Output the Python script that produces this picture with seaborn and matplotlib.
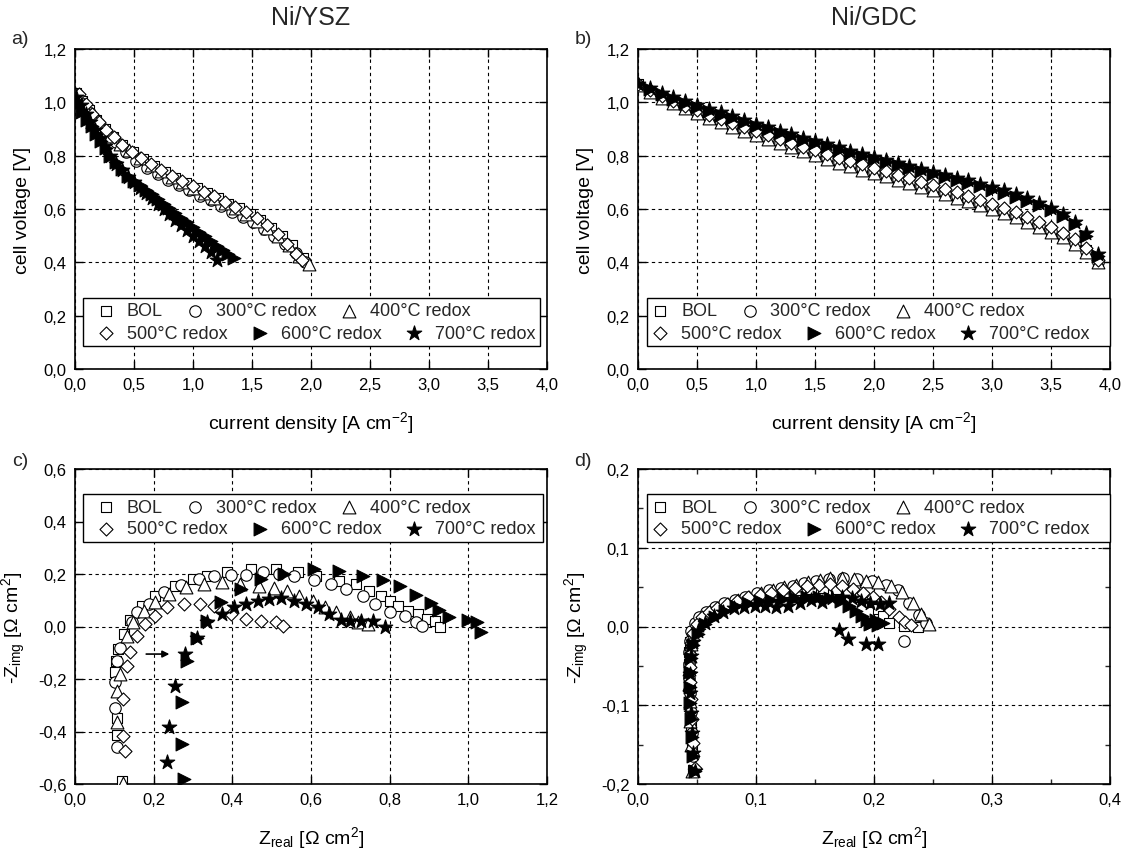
import matplotlib
matplotlib.use("Agg")
import matplotlib.pyplot as plt
import seaborn as sns
from matplotlib.ticker import MultipleLocator, FuncFormatter
from matplotlib.patches import Rectangle

sns.set_theme(style="white")
plt.rcParams["font.family"] = ["Liberation Sans", "DejaVu Sans"]
plt.rcParams["mathtext.fontset"] = "custom"
plt.rcParams["mathtext.rm"] = "Liberation Sans"
plt.rcParams["mathtext.it"] = "Liberation Sans:italic"
plt.rcParams["mathtext.bf"] = "Liberation Sans:bold"

# ---------------- series definitions ----------------
labels = ["BOL", "300°C redox", "400°C redox", "500°C redox", "600°C redox", "700°C redox"]
markers = ["s", "o", "^", "D", ">", "*"]
sizes = [55, 68, 85, 44, 85, 120]
faces = ["white", "white", "white", "white", "black", "black"]

# ---------------- a) Ni/YSZ  i-V ----------------
ja_bol = [0.01, 0.06, 0.12, 0.18, 0.25, 0.32, 0.40, 0.49, 0.58, 0.67, 0.76, 0.85, 0.94, 1.03, 1.12, 1.21, 1.30, 1.39, 1.48, 1.57, 1.66, 1.75, 1.84, 1.93]
va_bol = [1.035, 1.005, 0.97, 0.935, 0.90, 0.87, 0.84, 0.812, 0.786, 0.762, 0.74, 0.717, 0.697, 0.678, 0.661, 0.643, 0.62, 0.602, 0.58, 0.557, 0.53, 0.50, 0.465, 0.415]
ja_300 = [0.02, 0.07, 0.13, 0.20, 0.27, 0.35, 0.43, 0.52, 0.61, 0.70, 0.79, 0.88, 0.97, 1.06, 1.15, 1.24, 1.33, 1.42, 1.51, 1.60, 1.69, 1.78, 1.87, 1.95]
va_300 = [1.03, 0.995, 0.96, 0.92, 0.885, 0.85, 0.815, 0.78, 0.755, 0.73, 0.71, 0.69, 0.67, 0.65, 0.632, 0.612, 0.59, 0.57, 0.55, 0.525, 0.50, 0.47, 0.435, 0.40]
ja_400 = [0.01, 0.08, 0.15, 0.22, 0.30, 0.38, 0.46, 0.55, 0.64, 0.73, 0.82, 0.91, 1.00, 1.09, 1.18, 1.27, 1.36, 1.45, 1.54, 1.63, 1.72, 1.81, 1.90, 1.98]
va_400 = [1.03, 0.99, 0.945, 0.91, 0.875, 0.845, 0.82, 0.79, 0.765, 0.742, 0.72, 0.70, 0.68, 0.66, 0.642, 0.622, 0.602, 0.58, 0.556, 0.53, 0.50, 0.465, 0.425, 0.395]
ja_500 = [0.03, 0.09, 0.14, 0.20, 0.26, 0.33, 0.40, 0.48, 0.56, 0.64, 0.73, 0.82, 0.91, 1.00, 1.09, 1.18, 1.27, 1.36, 1.45, 1.54, 1.63, 1.72, 1.80, 1.87, 1.92]
va_500 = [1.03, 0.995, 0.955, 0.925, 0.895, 0.87, 0.84, 0.815, 0.79, 0.77, 0.748, 0.725, 0.705, 0.685, 0.665, 0.648, 0.628, 0.608, 0.588, 0.565, 0.54, 0.505, 0.47, 0.43, 0.41]
ja_600 = [0.02, 0.06, 0.10, 0.14, 0.18, 0.22, 0.26, 0.30, 0.35, 0.40, 0.45, 0.50, 0.55, 0.60, 0.65, 0.70, 0.75, 0.80, 0.85, 0.90, 0.95, 1.00, 1.05, 1.10, 1.15, 1.20, 1.25, 1.30, 1.35]
va_600 = [0.995, 0.965, 0.935, 0.91, 0.88, 0.855, 0.83, 0.80, 0.775, 0.75, 0.725, 0.705, 0.69, 0.672, 0.655, 0.638, 0.62, 0.603, 0.586, 0.568, 0.55, 0.533, 0.515, 0.498, 0.48, 0.463, 0.445, 0.43, 0.415]
ja_700 = [0.01, 0.05, 0.09, 0.13, 0.17, 0.21, 0.25, 0.30, 0.35, 0.40, 0.45, 0.50, 0.55, 0.60, 0.65, 0.70, 0.75, 0.80, 0.85, 0.90, 0.95, 1.00, 1.05, 1.10, 1.15, 1.20]
va_700 = [1.02, 0.99, 0.955, 0.925, 0.895, 0.865, 0.835, 0.80, 0.77, 0.745, 0.72, 0.70, 0.68, 0.66, 0.64, 0.62, 0.60, 0.58, 0.56, 0.54, 0.52, 0.50, 0.48, 0.46, 0.44, 0.41]

# ---------------- b) Ni/GDC  i-V ----------------
jb = [0.00, 0.10, 0.20, 0.30, 0.40, 0.50, 0.60, 0.70, 0.80, 0.90, 1.00, 1.10, 1.20, 1.30, 1.40, 1.50, 1.60, 1.70, 1.80, 1.90,
      2.00, 2.10, 2.20, 2.30, 2.40, 2.50, 2.60, 2.70, 2.80, 2.90, 3.00, 3.10, 3.20, 3.30, 3.40, 3.50, 3.60, 3.70, 3.80, 3.90]
vb_bol = [1.068, 1.043, 1.020, 1.000, 0.981, 0.963, 0.946, 0.929, 0.913, 0.897, 0.881, 0.866, 0.851, 0.836, 0.822, 0.808, 0.794, 0.780, 0.767, 0.754,
          0.741, 0.728, 0.715, 0.702, 0.689, 0.676, 0.663, 0.649, 0.635, 0.621, 0.606, 0.591, 0.575, 0.558, 0.540, 0.521, 0.500, 0.476, 0.446, 0.405]
vb_300 = [1.066, 1.042, 1.019, 0.998, 0.979, 0.961, 0.944, 0.927, 0.911, 0.895, 0.879, 0.864, 0.849, 0.834, 0.820, 0.806, 0.792, 0.778, 0.765, 0.752,
          0.739, 0.726, 0.713, 0.700, 0.687, 0.674, 0.661, 0.647, 0.633, 0.619, 0.604, 0.589, 0.573, 0.556, 0.538, 0.519, 0.498, 0.474, 0.444, 0.403]
vb_400 = [1.065, 1.040, 1.017, 0.996, 0.977, 0.959, 0.942, 0.925, 0.908, 0.892, 0.876, 0.861, 0.846, 0.831, 0.816, 0.802, 0.788, 0.774, 0.761, 0.748,
          0.735, 0.722, 0.709, 0.696, 0.683, 0.670, 0.657, 0.643, 0.629, 0.615, 0.600, 0.585, 0.569, 0.552, 0.534, 0.515, 0.494, 0.470, 0.440, 0.400]
vb_500 = [1.068, 1.046, 1.025, 1.005, 0.987, 0.970, 0.954, 0.938, 0.922, 0.907, 0.892, 0.877, 0.862, 0.848, 0.834, 0.820, 0.806, 0.793, 0.780, 0.767,
          0.754, 0.741, 0.728, 0.715, 0.702, 0.689, 0.676, 0.662, 0.648, 0.634, 0.619, 0.604, 0.588, 0.571, 0.553, 0.533, 0.511, 0.486, 0.454, 0.410]
vb_600 = [1.068, 1.049, 1.031, 1.014, 0.998, 0.983, 0.968, 0.954, 0.940, 0.926, 0.912, 0.899, 0.886, 0.873, 0.860, 0.847, 0.835, 0.823, 0.811, 0.799,
          0.787, 0.776, 0.765, 0.754, 0.743, 0.732, 0.721, 0.710, 0.698, 0.686, 0.673, 0.660, 0.646, 0.631, 0.614, 0.595, 0.572, 0.543, 0.500, 0.425]
vb_700 = [1.070, 1.052, 1.035, 1.019, 1.004, 0.990, 0.976, 0.962, 0.948, 0.934, 0.920, 0.907, 0.894, 0.881, 0.868, 0.855, 0.843, 0.831, 0.819, 0.807,
          0.795, 0.784, 0.773, 0.762, 0.751, 0.740, 0.729, 0.718, 0.707, 0.695, 0.683, 0.670, 0.656, 0.641, 0.624, 0.605, 0.582, 0.553, 0.510, 0.430]

# ---------------- c) Ni/YSZ  impedance ----------------
zc_re_bol = [0.119, 0.106, 0.106, 0.102, 0.104, 0.110, 0.125, 0.140, 0.170, 0.204, 0.255, 0.300, 0.336, 0.387, 0.447, 0.510, 0.566, 0.613, 0.670, 0.715, 0.748, 0.779, 0.800, 0.821, 0.847, 0.872, 0.894, 0.914, 0.927]
zc_im_bol = [-0.590, -0.415, -0.350, -0.175, -0.130, -0.085, -0.030, 0.025, 0.080, 0.117, 0.155, 0.180, 0.194, 0.206, 0.219, 0.219, 0.206, 0.194, 0.175, 0.162, 0.137, 0.117, 0.098, 0.079, 0.060, 0.048, 0.029, 0.022, -0.002]
zc_re_300 = [0.106, 0.102, 0.102, 0.106, 0.115, 0.145, 0.157, 0.187, 0.225, 0.270, 0.314, 0.353, 0.396, 0.434, 0.477, 0.518, 0.557, 0.608, 0.651, 0.690, 0.732, 0.762, 0.800, 0.838, 0.868, 0.881]
zc_im_300 = [-0.460, -0.310, -0.210, -0.130, -0.080, 0.016, 0.054, 0.086, 0.130, 0.160, 0.181, 0.194, 0.196, 0.196, 0.206, 0.200, 0.194, 0.178, 0.162, 0.143, 0.117, 0.086, 0.056, 0.041, 0.016, 0.003]
zc_re_400 = [0.123, 0.106, 0.106, 0.115, 0.132, 0.148, 0.175, 0.204, 0.238, 0.281, 0.327, 0.374, 0.420, 0.468, 0.506, 0.540, 0.570, 0.604, 0.636, 0.664, 0.698, 0.720, 0.745]
zc_im_400 = [-0.595, -0.365, -0.245, -0.180, -0.035, 0.017, 0.060, 0.093, 0.124, 0.150, 0.162, 0.168, 0.163, 0.155, 0.145, 0.135, 0.117, 0.098, 0.073, 0.054, 0.035, 0.016, 0.010]
zc_re_500 = [0.128, 0.123, 0.123, 0.132, 0.140, 0.157, 0.179, 0.204, 0.234, 0.276, 0.319, 0.353, 0.396, 0.434, 0.472, 0.511, 0.528]
zc_im_500 = [-0.473, -0.416, -0.276, -0.149, -0.098, -0.035, 0.010, 0.041, 0.073, 0.086, 0.086, 0.079, 0.048, 0.029, 0.022, 0.016, 0.003]
zc_re_600 = [0.277, 0.272, 0.272, 0.285, 0.310, 0.336, 0.370, 0.421, 0.472, 0.532, 0.608, 0.671, 0.732, 0.783, 0.825, 0.866, 0.904, 0.925, 0.950, 1.000, 1.023, 1.032]
zc_im_600 = [-0.580, -0.448, -0.289, -0.130, -0.045, 0.022, 0.092, 0.143, 0.181, 0.200, 0.219, 0.213, 0.194, 0.178, 0.155, 0.120, 0.090, 0.063, 0.038, 0.025, 0.019, -0.022]
zc_re_700 = [0.234, 0.238, 0.255, 0.280, 0.310, 0.336, 0.374, 0.404, 0.434, 0.464, 0.494, 0.523, 0.557, 0.587, 0.617, 0.647, 0.677, 0.698, 0.728, 0.757, 0.787]
zc_im_700 = [-0.518, -0.384, -0.225, -0.105, -0.045, 0.016, 0.048, 0.073, 0.086, 0.098, 0.105, 0.107, 0.098, 0.086, 0.073, 0.048, 0.025, 0.022, 0.022, 0.022, -0.003]

# ---------------- d) Ni/GDC  impedance ----------------
zd_re_bol = [0.047, 0.046, 0.045, 0.044, 0.044, 0.043, 0.043, 0.043, 0.044, 0.046, 0.050, 0.055, 0.062, 0.070, 0.079, 0.088, 0.097, 0.107, 0.117, 0.127, 0.137, 0.147, 0.157, 0.168, 0.178, 0.188, 0.197, 0.203, 0.208, 0.213, 0.225, 0.237]
zd_im_bol = [-0.182, -0.155, -0.125, -0.100, -0.080, -0.062, -0.047, -0.033, -0.020, -0.008, 0.003, 0.012, 0.019, 0.025, 0.029, 0.032, 0.035, 0.038, 0.041, 0.044, 0.046, 0.048, 0.049, 0.047, 0.044, 0.038, 0.031, 0.022, 0.013, 0.004, 0.001, -0.001]
zd_re_300 = [0.047, 0.046, 0.045, 0.044, 0.043, 0.043, 0.043, 0.044, 0.045, 0.048, 0.052, 0.058, 0.065, 0.073, 0.082, 0.091, 0.101, 0.111, 0.121, 0.131, 0.141, 0.151, 0.162, 0.174, 0.186, 0.198, 0.210, 0.220, 0.230, 0.238, 0.244, 0.225]
zd_im_300 = [-0.165, -0.135, -0.108, -0.085, -0.065, -0.048, -0.032, -0.018, -0.006, 0.004, 0.012, 0.019, 0.025, 0.030, 0.034, 0.038, 0.042, 0.046, 0.049, 0.052, 0.055, 0.058, 0.060, 0.061, 0.060, 0.058, 0.053, 0.046, 0.030, 0.015, 0.004, -0.019]
zd_re_400 = [0.046, 0.045, 0.044, 0.044, 0.043, 0.043, 0.044, 0.045, 0.047, 0.050, 0.055, 0.061, 0.068, 0.076, 0.085, 0.094, 0.104, 0.114, 0.124, 0.134, 0.144, 0.154, 0.163, 0.173, 0.183, 0.193, 0.203, 0.214, 0.224, 0.233, 0.240, 0.247]
zd_im_400 = [-0.183, -0.150, -0.120, -0.095, -0.073, -0.054, -0.037, -0.022, -0.009, 0.002, 0.011, 0.018, 0.024, 0.029, 0.034, 0.038, 0.042, 0.046, 0.050, 0.053, 0.056, 0.059, 0.062, 0.062, 0.060, 0.058, 0.057, 0.052, 0.044, 0.030, 0.016, 0.003]
zd_re_500 = [0.048, 0.047, 0.046, 0.045, 0.044, 0.044, 0.044, 0.045, 0.047, 0.050, 0.054, 0.060, 0.067, 0.075, 0.084, 0.093, 0.103, 0.113, 0.123, 0.133, 0.143, 0.153, 0.163, 0.173, 0.182, 0.191, 0.199, 0.206, 0.213, 0.221, 0.226, 0.231]
zd_im_500 = [-0.180, -0.148, -0.118, -0.092, -0.070, -0.051, -0.035, -0.021, -0.008, 0.003, 0.012, 0.019, 0.024, 0.029, 0.033, 0.037, 0.040, 0.043, 0.046, 0.049, 0.051, 0.053, 0.054, 0.052, 0.048, 0.043, 0.038, 0.031, 0.022, 0.012, 0.006, 0.002]
zd_re_600 = [0.048, 0.047, 0.046, 0.045, 0.044, 0.044, 0.044, 0.045, 0.047, 0.051, 0.057, 0.065, 0.074, 0.083, 0.093, 0.103, 0.113, 0.123, 0.133, 0.143, 0.153, 0.163, 0.172, 0.179, 0.185, 0.190, 0.194, 0.198, 0.203, 0.208, 0.197, 0.202]
zd_im_600 = [-0.183, -0.165, -0.140, -0.118, -0.097, -0.077, -0.058, -0.040, -0.024, -0.010, 0.003, 0.012, 0.020, 0.026, 0.030, 0.032, 0.034, 0.035, 0.036, 0.037, 0.037, 0.036, 0.032, 0.026, 0.020, 0.013, 0.008, 0.004, 0.002, 0.005, 0.003, 0.008]
zd_re_700 = [0.048, 0.047, 0.046, 0.045, 0.044, 0.044, 0.045, 0.047, 0.051, 0.057, 0.064, 0.072, 0.081, 0.090, 0.099, 0.108, 0.117, 0.127, 0.137, 0.147, 0.156, 0.164, 0.173, 0.181, 0.189, 0.197, 0.205, 0.213, 0.170, 0.178, 0.193, 0.203]
zd_im_700 = [-0.183, -0.160, -0.135, -0.110, -0.085, -0.060, -0.038, -0.020, -0.006, 0.005, 0.013, 0.019, 0.023, 0.025, 0.026, 0.026, 0.025, 0.026, 0.030, 0.034, 0.031, 0.036, 0.038, 0.036, 0.033, 0.030, 0.029, 0.030, -0.005, -0.016, -0.022, -0.022]

panel_a = [(ja_bol, va_bol), (ja_300, va_300), (ja_400, va_400), (ja_500, va_500), (ja_600, va_600), (ja_700, va_700)]
panel_b = [(jb, vb_bol), (jb, vb_300), (jb, vb_400), (jb, vb_500), (jb, vb_600), (jb, vb_700)]
panel_c = [(zc_re_bol, zc_im_bol), (zc_re_300, zc_im_300), (zc_re_400, zc_im_400),
           (zc_re_500, zc_im_500), (zc_re_600, zc_im_600), (zc_re_700, zc_im_700)]
panel_d = [(zd_re_bol, zd_im_bol), (zd_re_300, zd_im_300), (zd_re_400, zd_im_400),
           (zd_re_500, zd_im_500), (zd_re_600, zd_im_600), (zd_re_700, zd_im_700)]

# ---------------- figure ----------------
W, H = 1130, 854
fig = plt.figure(figsize=(W / 100, H / 100), dpi=100)


def px_axes(left, top, width, height):
    return fig.add_axes([left / W, 1 - (top + height) / H, width / W, height / H])


ax_a = px_axes(75, 50, 472, 320)
ax_b = px_axes(638, 50, 472, 320)
ax_c = px_axes(75, 470, 472, 315)
ax_d = px_axes(638, 470, 472, 315)


def comma(v, pos):
    v = round(v, 4)
    if v == 0:
        v = 0.0
    return f"{v:.1f}".replace(".", ",")


def style_axes(ax, xlim, ylim, xmaj, ymaj, minor=None):
    ax.set_xlim(*xlim)
    ax.set_ylim(*ylim)
    ax.xaxis.set_major_locator(MultipleLocator(xmaj))
    ax.yaxis.set_major_locator(MultipleLocator(ymaj))
    if minor:
        ax.xaxis.set_minor_locator(MultipleLocator(minor[0]))
        ax.yaxis.set_minor_locator(MultipleLocator(minor[1]))
    ax.xaxis.set_major_formatter(FuncFormatter(comma))
    ax.yaxis.set_major_formatter(FuncFormatter(comma))
    ax.grid(True, which="major", color="black", linestyle=(0, (3, 3)), linewidth=0.8)
    ax.tick_params(which="major", direction="in", length=6, width=1, top=True, right=True,
                   bottom=True, left=True, labelsize=12, pad=6, colors="black")
    ax.tick_params(which="minor", direction="in", length=3.5, width=1, top=True, right=True,
                   bottom=True, left=True)
    for sp in ax.spines.values():
        sp.set_color("black")
        sp.set_linewidth(1.2)
    ax.set_facecolor("white")


def draw_series(ax, data):
    for (x, y), lab, m, s, fc in zip(data, labels, markers, sizes, faces):
        sns.scatterplot(x=x, y=y, ax=ax, marker=m, s=s, color=fc, edgecolor="black",
                        linewidth=0.8, legend=False, zorder=3)


def two_row_legend(ax, x0, row_y, frame):
    handles = ax.collections[:6]
    kw = dict(ncol=3, loc="center left", frameon=False, fontsize=13, handlelength=1.0,
              handletextpad=0.65, columnspacing=1.3, borderpad=0, borderaxespad=0,
              scatterpoints=1)
    leg1 = ax.legend(handles[:3], labels[:3], bbox_to_anchor=(x0, row_y[0]), **kw)
    ax.add_artist(leg1)
    leg2 = ax.legend(handles[3:], labels[3:], bbox_to_anchor=(x0, row_y[1]), **kw)
    leg1.set_zorder(6)
    leg2.set_zorder(6)
    fx0, fy0, fx1, fy1 = frame
    ax.add_patch(Rectangle((fx0, fy0), fx1 - fx0, fy1 - fy0, transform=ax.transAxes,
                           facecolor="white", edgecolor="black", linewidth=1.0,
                           zorder=5, clip_on=False))


for ax, data in [(ax_a, panel_a), (ax_b, panel_b), (ax_c, panel_c), (ax_d, panel_d)]:
    draw_series(ax, data)

style_axes(ax_a, (0, 4), (0, 1.2), 0.5, 0.2)
style_axes(ax_b, (0, 4), (0, 1.2), 0.5, 0.2)
style_axes(ax_c, (0, 1.2), (-0.6, 0.6), 0.2, 0.2)
style_axes(ax_d, (0, 0.4), (-0.2, 0.2), 0.1, 0.1, minor=(0.05, 0.05))

two_row_legend(ax_a, 0.047, (0.182, 0.112), (0.016, 0.073, 0.985, 0.221))
two_row_legend(ax_b, 0.028, (0.182, 0.112), (0.019, 0.073, 1.0, 0.221))
two_row_legend(ax_c, 0.047, (0.879, 0.810), (0.016, 0.768, 0.991, 0.921))
two_row_legend(ax_d, 0.028, (0.879, 0.810), (0.019, 0.768, 1.0, 0.921))

# arrow marking the shift of the 600/700 °C spectra
ax_c.annotate("", xy=(0.247, -0.105), xytext=(0.174, -0.105),
              arrowprops=dict(arrowstyle="-|>", color="black", lw=1.2, mutation_scale=10))

lab_kw = dict(fontsize=14, color="black")
for ax in (ax_a, ax_b):
    ax.set_xlabel("current density [A cm$^{-2}$]", labelpad=12, **lab_kw)
    ax.set_ylabel("cell voltage [V]", labelpad=9, **lab_kw)
for ax in (ax_c, ax_d):
    ax.set_xlabel("Z$_{\\mathrm{real}}$ [Ω cm$^2$]", labelpad=12, **lab_kw)
    ax.set_ylabel("-Z$_{\\mathrm{img}}$ [Ω cm$^2$]", labelpad=7, **lab_kw)

fig.text(311 / W, 1 - 18 / H, "Ni/YSZ", ha="center", va="center", fontsize=18)
fig.text(874 / W, 1 - 18 / H, "Ni/GDC", ha="center", va="center", fontsize=18)
for t, (x, y) in {"a)": (20, 40), "b)": (583, 40), "c)": (20, 462), "d)": (583, 462)}.items():
    fig.text(x / W, 1 - y / H, t, ha="center", va="center", fontsize=14)

fig.savefig("out.png", dpi=100, facecolor="white")
